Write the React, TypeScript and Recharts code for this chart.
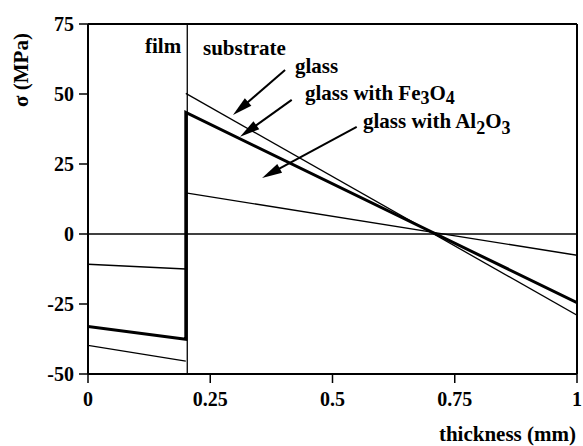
import { ComposedChart, Line, XAxis, YAxis, ReferenceLine, Customized } from 'recharts'

const xTicks = [0, 0.25, 0.5, 0.75, 1]
const yTicks = [-50, -25, 0, 25, 50, 75]

// stress profiles (x in mm, y in MPa)
const glassFilm = [
  { x: 0, y: -39.8 },
  { x: 0.2, y: -45.4 },
]
const glassSubstrate = [
  { x: 0.2, y: 50.2 },
  { x: 1, y: -29 },
]
const fe3o4Stress = [
  { x: 0, y: -33 },
  { x: 0.2, y: -37.6 },
  { x: 0.2, y: 43.4 },
  { x: 1, y: -24.5 },
]
const al2o3Film = [
  { x: 0, y: -10.8 },
  { x: 0.2, y: -12.5 },
]
const al2o3Substrate = [
  { x: 0.2, y: 14.7 },
  { x: 1, y: -7.6 },
]
const interfaceX = 0.203

// annotation arrows, from label end to tip (data coords)
const arrows = [
  { from: { x: 0.403, y: 58.6 }, to: { x: 0.2965, y: 42.5 } },
  { from: { x: 0.4166, y: 47.9 }, to: { x: 0.311, y: 34.7 } },
  { from: { x: 0.5495, y: 38.3 }, to: { x: 0.356, y: 20 } },
]

const FONT = '"Liberation Serif", "Times New Roman", Times, serif'
const tickStyle = {
  fontWeight: 'bold',
  fontSize: 20,
  fill: '#000',
  style: { fontFamily: FONT, fontWeight: 'bold' },
}

function Arrow(props: any) {
  const x1 = Number(props.x1)
  const y1 = Number(props.y1)
  const x2 = Number(props.x2)
  const y2 = Number(props.y2)
  const dx = x2 - x1
  const dy = y2 - y1
  const len = Math.sqrt(dx * dx + dy * dy) || 1
  const ux = dx / len
  const uy = dy / len
  const headLen = 20
  const halfW = 5
  const bx = x2 - ux * headLen
  const by = y2 - uy * headLen
  const head = `M${x2},${y2} L${bx - uy * halfW},${by + ux * halfW} L${bx + uy * halfW},${by - ux * halfW} Z`
  const shaft = `M${x1},${y1} L${bx + ux * 2},${by + uy * 2}`
  return (
    <g>
      <path d={shaft} style={{ stroke: '#000', strokeWidth: 2, fill: 'none' }} />
      <path d={head} style={{ fill: '#000', stroke: 'none' }} />
    </g>
  )
}

function Labels() {
  const t = {
    fontWeight: 'bold' as const,
    fontSize: 21,
    fill: '#000',
    style: { fontFamily: FONT },
  }
  const sub = { fontSize: 18 }
  return (
    <g>
      <text x={145} y={53} {...t}>film</text>
      <text x={203} y={55} {...t}>substrate</text>
      <text x={295} y={73} {...t}>glass</text>
      <text x={305} y={100} {...t}>
        glass with Fe<tspan dy={4} {...sub}>3</tspan>
        <tspan dy={-4}>O</tspan>
        <tspan dy={4} {...sub}>4</tspan>
      </text>
      <text x={363} y={128} {...t}>
        glass with Al<tspan dy={6} {...sub}>2</tspan>
        <tspan dy={-6}>O</tspan>
        <tspan dy={6} {...sub}>3</tspan>
      </text>
      <text x={576} y={441} textAnchor="end" {...t}>thickness (mm)</text>
      <text x={28} y={70} textAnchor="middle" transform="rotate(-90 28 70)" {...t}>
        σ (MPa)
      </text>
    </g>
  )
}

export default function App() {
  return (
    <div style={{ position: 'absolute', left: 0, top: 0, background: '#fff', fontFamily: FONT }}>
      <ComposedChart
        width={583}
        height={446}
        margin={{ top: 24, right: 6, bottom: 0, left: 0 }}
      >
        <XAxis
          type="number"
          dataKey="x"
          domain={[0, 1]}
          ticks={xTicks}
          tickFormatter={(v: number) => String(v)}
          allowDataOverflow
          height={72}
          tickSize={9}
          tickMargin={9}
          tick={tickStyle}
          axisLine={{ stroke: '#000', strokeWidth: 2 }}
          tickLine={{ stroke: '#000', strokeWidth: 1.5 }}
        />
        <YAxis
          type="number"
          domain={[-50, 75]}
          ticks={yTicks}
          allowDataOverflow
          width={88}
          tickSize={9}
          tickMargin={5}
          tick={tickStyle}
          axisLine={{ stroke: '#000', strokeWidth: 2 }}
          tickLine={{ stroke: '#000', strokeWidth: 1.5 }}
        />
        <ReferenceLine y={75} stroke="#000" strokeWidth={2} />
        <ReferenceLine x={1} stroke="#000" strokeWidth={2} />
        <ReferenceLine y={0} stroke="#000" strokeWidth={1.6} />
        <ReferenceLine x={interfaceX} stroke="#000" strokeWidth={1.3} />
        <Line data={glassFilm} dataKey="y" stroke="#000" strokeWidth={1.3} dot={false} isAnimationActive={false} />
        <Line data={glassSubstrate} dataKey="y" stroke="#000" strokeWidth={1.3} dot={false} isAnimationActive={false} />
        <Line data={al2o3Film} dataKey="y" stroke="#000" strokeWidth={1.3} dot={false} isAnimationActive={false} />
        <Line data={al2o3Substrate} dataKey="y" stroke="#000" strokeWidth={1.3} dot={false} isAnimationActive={false} />
        <Line data={fe3o4Stress} dataKey="y" stroke="#000" strokeWidth={3} dot={false} isAnimationActive={false} />
        {arrows.map((a, i) => (
          <ReferenceLine
            key={`arrow-${i}`}
            segment={[a.from, a.to]}
            ifOverflow="visible"
            shape={Arrow}
          />
        ))}
        <Customized component={Labels} />
      </ComposedChart>
    </div>
  )
}
